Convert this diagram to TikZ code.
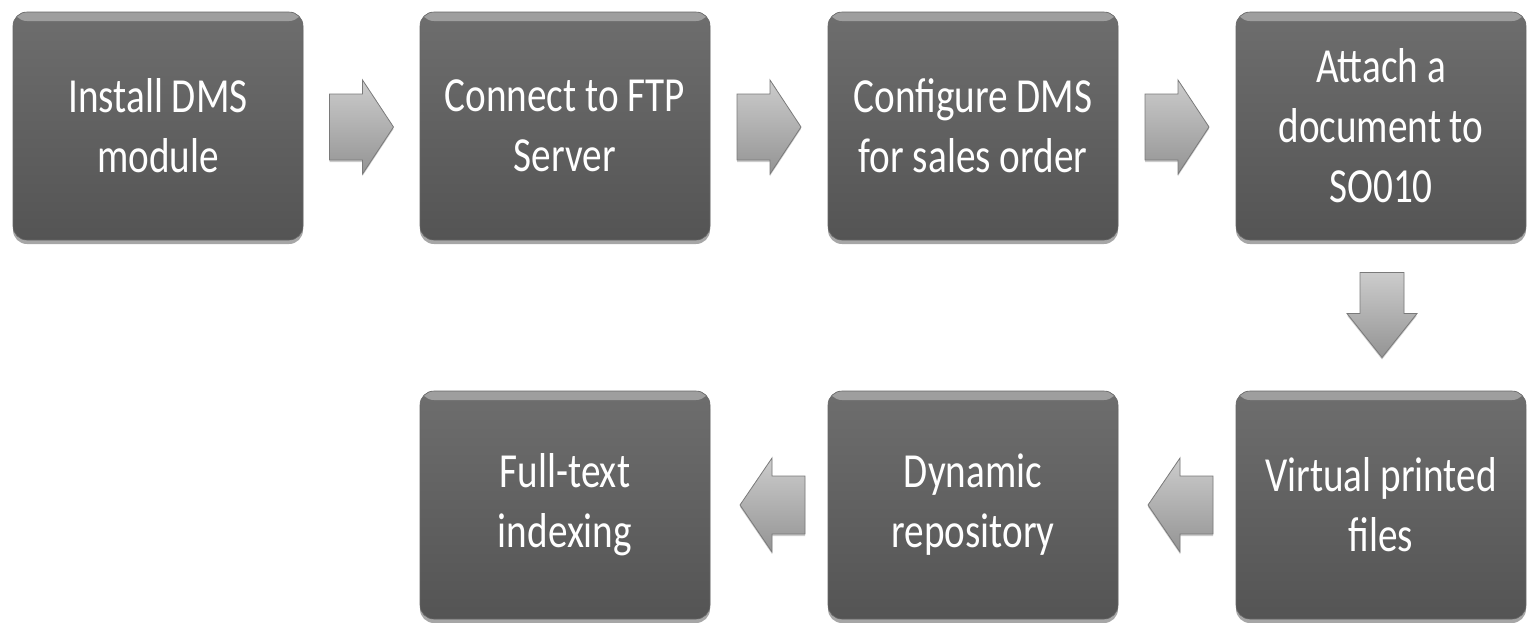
\documentclass[tikz,border=0pt]{standalone}
\usepackage{fontspec}
\setmainfont{Carlito}[FakeStretch=0.8]
\usetikzlibrary{shadows,calc}
\begin{document}
\begin{tikzpicture}[x=1pt,y=-1pt,
  stepbox/.style={rounded corners=14pt, minimum width=290pt, minimum height=228pt,
    top color=black!57, bottom color=black!67, draw=black!60, line width=0.6pt,
    text=white, align=center, font=\fontsize{49}{60}\selectfont,
    drop shadow={shadow xshift=0pt, shadow yshift=-4pt, opacity=0.35, fill=black},
    path picture={\fill[black!38] (path picture bounding box.north west) rectangle ([yshift=-9pt]path picture bounding box.north east);}},
  blockarrow/.style={draw=black!52, line width=0.8pt, line join=miter,
    top color=black!20, bottom color=black!42,
    drop shadow={shadow xshift=0pt, shadow yshift=-2pt, opacity=0.2, fill=black}},
]
\useasboundingbox (0,0) rectangle (1533,622);
\node[stepbox] (b1) at (158,126) {Install DMS\\module};
\node[stepbox] (b2) at (565,126) {Connect to FTP\\Server};
\node[stepbox] (b3) at (973,126) {Configure DMS\\for sales order};
\node[stepbox] (b4) at (1381,126) {Attach a\\document to\\SO010};
\node[stepbox] (b5) at (1381,505) {Virtual printed\\files};
\node[stepbox] (b6) at (973,505) {Dynamic\\repository};
\node[stepbox] (b7) at (565,505) {Full-text\\indexing};
\coordinate (m1) at ($(b1.east)!0.5!(b2.west)+(0,1)$);
\coordinate (m2) at ($(b2.east)!0.5!(b3.west)+(0,1)$);
\coordinate (m3) at ($(b3.east)!0.5!(b4.west)+(0,1)$);
\coordinate (m4) at ($(b4.south)!0.5!(b5.north)+(1,0)$);
\coordinate (m5) at ($(b5.west)!0.5!(b6.east)$);
\coordinate (m6) at ($(b6.west)!0.5!(b7.east)$);
\foreach \m in {m1,m2,m3}{
  \path[blockarrow] ($(\m)+(-32,-33)$) -- ($(\m)+(1,-33)$) -- ($(\m)+(1,-47)$) -- ($(\m)+(32,0)$)
    -- ($(\m)+(1,47)$) -- ($(\m)+(1,33)$) -- ($(\m)+(-32,33)$) -- cycle;
}
\path[blockarrow] ($(m4)+(-22,-43)$) -- ($(m4)+(22,-43)$) -- ($(m4)+(22,-2)$) -- ($(m4)+(35,-2)$)
  -- ($(m4)+(0,42)$) -- ($(m4)+(-35,-2)$) -- ($(m4)+(-22,-2)$) -- cycle;
\foreach \m in {m5,m6}{
  \path[blockarrow] ($(\m)+(36,-29)$) -- ($(\m)+(3,-29)$) -- ($(\m)+(3,-47)$) -- ($(\m)+(-29,0)$)
    -- ($(\m)+(3,47)$) -- ($(\m)+(3,29)$) -- ($(\m)+(36,29)$) -- cycle;
}
\end{tikzpicture}
\end{document}
